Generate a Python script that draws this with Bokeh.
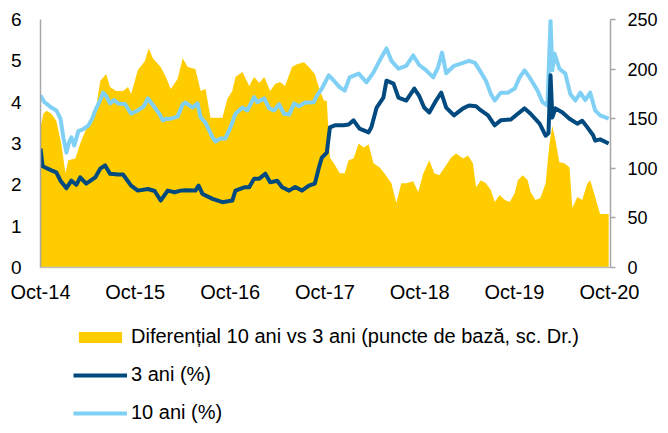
import pandas as pd
from bokeh.plotting import figure
from bokeh.layouts import column
from bokeh.models import (Range1d, LinearAxis, FixedTicker, Legend, LegendItem,
                          ColumnDataSource, DatetimeTickFormatter)
from bokeh.embed import file_html
from bokeh.resources import INLINE

# ---------------- data ----------------
dates_10y = ["2014-10-01", "2014-10-16", "2014-11-12", "2014-12-01", "2014-12-17", "2014-12-28",
             "2015-01-09", "2015-01-20", "2015-01-28", "2015-02-08", "2015-02-24", "2015-03-15",
             "2015-04-03", "2015-04-18", "2015-04-30", "2015-05-19", "2015-05-30", "2015-06-11",
             "2015-06-26", "2015-07-11", "2015-07-27", "2015-08-23", "2015-09-15", "2015-10-11",
             "2015-11-03", "2015-11-19", "2015-12-15", "2016-01-04", "2016-01-15", "2016-01-30",
             "2016-02-15", "2016-03-12", "2016-04-01", "2016-04-12", "2016-05-09", "2016-05-28",
             "2016-06-09", "2016-06-28", "2016-07-25", "2016-08-05", "2016-08-24", "2016-09-12",
             "2016-10-02", "2016-10-21", "2016-11-17", "2016-12-06", "2017-01-01", "2017-01-13",
             "2017-02-09", "2017-02-28", "2017-03-19", "2017-04-07", "2017-04-26", "2017-05-16",
             "2017-06-04", "2017-06-23", "2017-07-16", "2017-08-19", "2017-08-31", "2017-09-19",
             "2017-10-16", "2017-11-04", "2017-11-27", "2017-12-16", "2018-01-04", "2018-02-08",
             "2018-03-10", "2018-04-06", "2018-04-29", "2018-05-26", "2018-06-14", "2018-07-11",
             "2018-08-10", "2018-09-06", "2018-09-29", "2018-10-26", "2018-11-22", "2018-12-11",
             "2018-12-26", "2019-01-11", "2019-02-10", "2019-03-17", "2019-04-09", "2019-05-02",
             "2019-05-25", "2019-06-13", "2019-07-02", "2019-07-17", "2019-08-09", "2019-09-05",
             "2019-10-02", "2019-10-21", "2019-11-09", "2019-11-28", "2019-12-29", "2020-01-17",
             "2020-02-05", "2020-02-17", "2020-02-24", "2020-03-03", "2020-03-22", "2020-04-14",
             "2020-05-03", "2020-05-23", "2020-06-11", "2020-06-30", "2020-07-19", "2020-08-07",
             "2020-08-26", "2020-09-28"]
yield_10y = [4.16, 4.0, 3.87, 3.8, 3.6, 3.15,
             2.78, 3.05, 3.15, 2.95, 3.3, 3.35,
             3.43, 3.6, 3.8, 4.05, 4.23, 4.15,
             3.97, 4.05, 3.97, 3.95, 3.72, 3.8,
             3.9, 4.09, 3.87, 3.7, 3.56, 3.6,
             3.6, 3.65, 3.95, 3.99, 3.87, 3.97,
             3.63, 3.5, 3.15, 3.05, 3.12, 3.12,
             3.39, 3.72, 3.87, 3.8, 4.12, 4.0,
             4.09, 3.85, 3.8, 3.95, 3.72, 3.7,
             3.97, 3.9, 3.99, 4.0, 4.16, 4.33,
             4.65, 4.52, 4.36, 4.28, 4.6, 4.69,
             4.48, 4.72, 5.0, 5.3, 5.0, 4.81,
             4.88, 5.13, 4.9, 4.77, 4.6, 4.85,
             5.2, 4.7, 4.88, 4.95, 5.0, 4.95,
             4.72, 4.52, 4.2, 4.04, 4.23, 4.23,
             4.33, 4.6, 4.77, 4.6, 4.28, 4.0,
             3.92, 5.98, 4.77, 5.18, 4.81, 4.69,
             4.2, 4.04, 4.23, 4.05, 4.23, 3.8,
             3.68, 3.6]

dates_3y = ["2014-10-01", "2014-10-09", "2014-11-12", "2014-12-01", "2014-12-17", "2015-01-09",
            "2015-01-28", "2015-02-16", "2015-03-03", "2015-03-26", "2015-04-30", "2015-05-19",
            "2015-06-07", "2015-06-26", "2015-07-27", "2015-08-15", "2015-09-15", "2015-10-11",
            "2015-11-19", "2015-12-15", "2016-01-07", "2016-02-03", "2016-03-01", "2016-03-24",
            "2016-04-12", "2016-05-20", "2016-06-01", "2016-06-16", "2016-07-25", "2016-09-01",
            "2016-10-09", "2016-10-21", "2016-11-24", "2016-12-13", "2017-01-01", "2017-01-21",
            "2017-02-13", "2017-03-04", "2017-03-31", "2017-04-19", "2017-05-16", "2017-06-08",
            "2017-07-04", "2017-07-31", "2017-08-23", "2017-09-07", "2017-09-19", "2017-10-08",
            "2017-10-20", "2017-11-08", "2017-12-12", "2017-12-31", "2018-01-19", "2018-02-11",
            "2018-03-18", "2018-03-29", "2018-04-18", "2018-05-14", "2018-05-26", "2018-06-22",
            "2018-07-11", "2018-08-10", "2018-09-10", "2018-09-29", "2018-10-18", "2018-11-07",
            "2018-12-03", "2018-12-23", "2019-01-11", "2019-02-10", "2019-03-17", "2019-04-09",
            "2019-05-06", "2019-05-25", "2019-06-21", "2019-07-17", "2019-08-09", "2019-09-17",
            "2019-10-14", "2019-11-09", "2019-12-02", "2020-01-06", "2020-01-29", "2020-02-09",
            "2020-02-17", "2020-02-24", "2020-03-07", "2020-04-03", "2020-04-30", "2020-05-30",
            "2020-06-18", "2020-07-08", "2020-07-30", "2020-08-07", "2020-08-26", "2020-09-28"]
yield_3y = [2.88, 2.45, 2.35, 2.3, 2.1, 1.92,
            2.1, 2.0, 2.18, 2.03, 2.18, 2.39,
            2.47, 2.27, 2.25, 2.25, 1.98, 1.86,
            1.9, 1.85, 1.62, 1.86, 1.82, 1.86,
            1.87, 1.86, 1.98, 1.78, 1.66, 1.58,
            1.62, 1.86, 1.94, 1.94, 2.15, 2.15,
            2.27, 2.06, 2.1, 1.94, 1.86, 1.95,
            1.86, 1.98, 2.03, 2.4, 2.66, 2.78,
            3.39, 3.44, 3.44, 3.46, 3.56, 3.36,
            3.27, 3.4, 3.87, 4.11, 4.52, 4.45,
            4.11, 4.04, 4.33, 4.15, 3.87, 3.75,
            4.04, 4.23, 3.87, 3.68, 3.85, 3.92,
            3.9, 3.8, 3.68, 3.44, 3.56, 3.58,
            3.72, 3.85, 3.72, 3.48, 3.19, 3.25,
            4.65, 3.63, 3.85, 3.75, 3.6, 3.48,
            3.55, 3.39, 3.2, 3.07, 3.1, 3.0]

dates_spread = ["2014-10-01", "2014-10-12", "2014-10-24", "2014-11-12", "2014-12-01", "2014-12-20",
                "2015-01-05", "2015-01-16", "2015-02-12", "2015-03-03", "2015-04-03", "2015-05-03",
                "2015-05-19", "2015-06-11", "2015-06-26", "2015-07-19", "2015-08-15", "2015-09-03",
                "2015-09-15", "2015-10-11", "2015-11-07", "2015-11-22", "2015-12-08", "2016-01-07",
                "2016-01-27", "2016-02-15", "2016-03-12", "2016-04-01", "2016-04-20", "2016-05-20",
                "2016-06-09", "2016-06-28", "2016-07-17", "2016-09-01", "2016-09-20", "2016-10-09",
                "2016-10-21", "2016-11-17", "2016-12-13", "2017-01-01", "2017-01-21", "2017-02-09",
                "2017-03-04", "2017-03-23", "2017-04-11", "2017-04-30", "2017-05-27", "2017-06-15",
                "2017-07-12", "2017-07-31", "2017-08-23", "2017-09-07", "2017-09-27", "2017-10-08",
                "2017-10-20", "2017-11-04", "2017-11-27", "2017-12-16", "2017-12-31", "2018-01-19",
                "2018-02-08", "2018-02-27", "2018-03-18", "2018-04-06", "2018-04-29", "2018-05-18",
                "2018-06-14", "2018-07-03", "2018-07-22", "2018-08-10", "2018-09-06", "2018-09-25",
                "2018-10-15", "2018-11-07", "2018-11-26", "2018-12-15", "2019-01-03", "2019-01-30",
                "2019-02-18", "2019-03-17", "2019-04-05", "2019-04-24", "2019-05-06", "2019-05-25",
                "2019-06-13", "2019-07-02", "2019-07-17", "2019-08-05", "2019-08-25", "2019-09-13",
                "2019-10-02", "2019-10-14", "2019-11-02", "2019-11-21", "2019-12-02", "2019-12-21",
                "2020-01-09", "2020-01-29", "2020-02-13", "2020-02-24", "2020-03-07", "2020-03-22",
                "2020-04-10", "2020-04-30", "2020-05-11", "2020-05-30", "2020-06-18", "2020-07-08",
                "2020-07-19", "2020-08-07", "2020-08-26", "2020-09-28"]
spread_bp = [141, 155, 158, 155, 148, 125,
             95, 108, 110, 125, 145, 161,
             188, 195, 182, 178, 178, 182,
             175, 199, 208, 221, 211, 202,
             192, 180, 190, 211, 202, 200,
             178, 180, 151, 151, 170, 178,
             192, 197, 183, 192, 186, 192,
             178, 185, 187, 183, 202, 205,
             207, 202, 195, 182, 168, 168,
             111, 105, 95, 95, 108, 110,
             125, 121, 124, 105, 101, 95,
             85, 65, 85, 85, 87, 76,
             95, 108, 95, 93, 100, 111,
             115, 110, 113, 105, 81, 88,
             85, 78, 66, 73, 68, 66,
             75, 88, 93, 88, 76, 68,
             70, 85, 125, 143, 128, 106,
             105, 101, 60, 71, 68, 85,
             88, 71, 54, 54]

x_tick_dates = ["2014-10-01", "2015-10-01", "2016-10-01", "2017-10-01",
                "2018-10-01", "2019-10-01", "2020-10-01"]
x_tick_labels = ["Oct-14", "Oct-15", "Oct-16", "Oct-17", "Oct-18", "Oct-19", "Oct-20"]
left_ticks = [0, 1, 2, 3, 4, 5, 6]
right_ticks = [0, 50, 100, 150, 200, 250]

legend_labels = ["Diferențial 10 ani vs 3 ani (puncte de bază, sc. Dr.)", "3 ani (%)", "10 ani (%)"]

# ---------------- styling ----------------
YELLOW = "#FFCC00"
DARK = "#004A7F"
LIGHT = "#80D0F5"
AXIS = "#A6A6A6"
FONT = "Liberation Sans"

src10 = ColumnDataSource(dict(x=pd.to_datetime(dates_10y), y=yield_10y))
src3 = ColumnDataSource(dict(x=pd.to_datetime(dates_3y), y=yield_3y))
srcs = ColumnDataSource(dict(x=pd.to_datetime(dates_spread), y2=[0] * len(spread_bp), y1=spread_bp))

p = figure(width=660, height=305, x_axis_type="datetime",
           x_range=Range1d(pd.Timestamp("2014-10-01"), pd.Timestamp("2020-10-05")),
           y_range=Range1d(0, 6),
           output_backend="svg", toolbar_location=None,
           min_border_left=40, min_border_right=48, min_border_top=19, min_border_bottom=37)
p.extra_y_ranges = {"right": Range1d(0, 250)}
p.outline_line_color = None
p.xgrid.visible = False
p.ygrid.visible = False
p.background_fill_color = "white"
p.border_fill_color = "white"

area = p.varea(x="x", y1="y2", y2="y1", source=srcs, fill_color=YELLOW, y_range_name="right")
l10 = p.line(x="x", y="y", source=src10, line_color=LIGHT, line_width=4, line_join="round")
l3 = p.line(x="x", y="y", source=src3, line_color=DARK, line_width=4, line_join="round")

# x axis
tick_ms = [pd.Timestamp(d).value // 10**6 for d in x_tick_dates]
xa = p.xaxis[0]
xa.ticker = FixedTicker(ticks=tick_ms)
xa.formatter = DatetimeTickFormatter(years="%b-%y", months="%b-%y", days="%b-%y")
xa.major_label_overrides = {t: lab for t, lab in zip(tick_ms, x_tick_labels)}
xa.major_tick_out = 0
xa.major_tick_in = 0
xa.minor_tick_out = 0
xa.minor_tick_in = 0
xa.axis_line_color = "#BFBFBF"
xa.axis_line_width = 1.5
xa.major_label_text_font = FONT
xa.major_label_text_font_size = "20px"
xa.major_label_text_color = "black"
xa.major_label_standoff = 13

# left axis
ya = p.yaxis[0]
ya.ticker = FixedTicker(ticks=left_ticks)
ya.major_tick_out = 0
ya.major_tick_in = 0
ya.minor_tick_out = 0
ya.minor_tick_in = 0
ya.axis_line_color = AXIS
ya.axis_line_width = 1.5
ya.major_label_text_font = FONT
ya.major_label_text_font_size = "19px"
ya.major_label_text_color = "black"
ya.major_label_standoff = 19

# right axis
ra = LinearAxis(y_range_name="right", ticker=FixedTicker(ticks=right_ticks))
ra.major_tick_out = 5
ra.major_tick_in = 0
ra.minor_tick_out = 0
ra.minor_tick_in = 0
ra.major_tick_line_color = AXIS
ra.major_tick_line_width = 1.5
ra.axis_line_color = AXIS
ra.axis_line_width = 1.5
ra.major_label_text_font = FONT
ra.major_label_text_font_size = "18px"
ra.major_label_text_color = "black"
ra.major_label_standoff = 12
p.add_layout(ra, "right")

# ---------------- legend (separate strip below the chart) ----------------
leg = figure(width=660, height=120, x_range=Range1d(0, 1), y_range=Range1d(0, 1),
             x_axis_location=None, y_axis_location=None,
             output_backend="svg", toolbar_location=None,
             min_border_left=0, min_border_right=0, min_border_top=0, min_border_bottom=0)
leg.outline_line_color = None
leg.xgrid.visible = False
leg.ygrid.visible = False
leg.background_fill_color = "white"
leg.border_fill_color = "white"
# key renderers: their data lie outside the strip's ranges, only the legend swatches show
k_area = leg.varea(x=[-3, -2], y1=[-3, -3], y2=[-2, -2], fill_color=YELLOW)
k_3y = leg.line(x=[-3, -2], y=[-3, -3], line_color=DARK, line_width=4)
k_10y = leg.line(x=[-3, -2], y=[-3, -3], line_color=LIGHT, line_width=4)

legend = Legend(items=[LegendItem(label=legend_labels[0], renderers=[k_area]),
                       LegendItem(label=legend_labels[1], renderers=[k_3y]),
                       LegendItem(label=legend_labels[2], renderers=[k_10y])],
                location=(33, 1))
legend.background_fill_alpha = 0
legend.border_line_color = None
legend.padding = 0
legend.margin = 0
legend.spacing = 15
legend.glyph_width = 54
legend.glyph_height = 14
legend.label_height = 23
legend.label_standoff = 4
legend.label_text_font = FONT
legend.label_text_font_size = "20px"
legend.label_text_color = "black"
leg.add_layout(legend)

open("out.html", "w").write(file_html(column(p, leg), INLINE))
